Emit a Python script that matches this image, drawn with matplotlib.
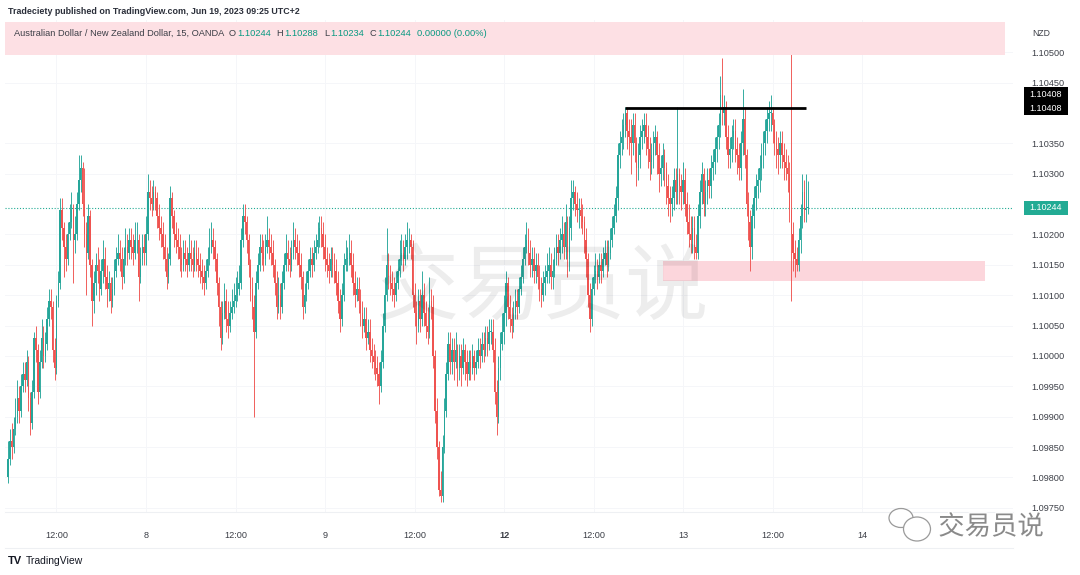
import numpy as np
import matplotlib
matplotlib.use("Agg")
import matplotlib.pyplot as plt
import matplotlib.patheffects as pe
from matplotlib.patches import Rectangle, Ellipse
from matplotlib.lines import Line2D

plt.rcParams['font.family'] = ['Liberation Sans', 'DejaVu Sans']

W, H = 1080, 575
OUT = "out.png"

# AUD/NZD 15 min, OANDA -- prices
first_open = 1.0980

close_d7 = [1.0983, 1.0986, 1.0985, 1.0988, 1.0990, 1.0993, 1.0991, 1.0995, 1.0997, 1.0996,
            1.0999, 1.0993, 1.0989, 1.0994, 1.1003, 1.1001, 1.0994, 1.0999, 1.1003, 1.1000,
            1.1002, 1.1006, 1.1009, 1.1008, 1.1001, 1.0998, 1.1009, 1.1012, 1.1024, 1.1021,
            1.1018, 1.1016, 1.1020, 1.1022, 1.1024, 1.1019, 1.1020, 1.1025, 1.1029, 1.1031,
            1.1025, 1.1020, 1.1017, 1.1023, 1.1015, 1.1009, 1.1012, 1.1015, 1.1014, 1.1011,
            1.1014, 1.1016, 1.1013, 1.1011, 1.1012, 1.1009, 1.1011, 1.1014, 1.1016, 1.1017,
            1.1016, 1.1013, 1.1016, 1.1018, 1.1017, 1.1019, 1.1018, 1.1017, 1.1019, 1.1019,
            1.1013, 1.1016, 1.1018, 1.1017]
high_d7 = [1.0986, 1.0988, 1.0989, 1.0990, 1.0993, 1.0996, 1.0995, 1.0997, 1.0999, 1.0999,
           1.1001, 1.1000, 1.0994, 1.0996, 1.1004, 1.1005, 1.1002, 1.1001, 1.1006, 1.1005,
           1.1004, 1.1008, 1.1011, 1.1011, 1.1009, 1.1003, 1.1010, 1.1014, 1.1026, 1.1026,
           1.1022, 1.1020, 1.1022, 1.1025, 1.1027, 1.1025, 1.1023, 1.1027, 1.1033, 1.1033,
           1.1032, 1.1031, 1.1022, 1.1025, 1.1024, 1.1016, 1.1014, 1.1017, 1.1018, 1.1016,
           1.1016, 1.1019, 1.1018, 1.1015, 1.1014, 1.1013, 1.1013, 1.1016, 1.1018, 1.1020,
           1.1019, 1.1018, 1.1018, 1.1021, 1.1020, 1.1021, 1.1021, 1.1020, 1.1022, 1.1022,
           1.1020, 1.1018, 1.1020, 1.1020]
low_d7 = [1.0979, 1.0982, 1.0983, 1.0984, 1.0987, 1.0989, 1.0989, 1.0990, 1.0994, 1.0994,
          1.0995, 1.0991, 1.0987, 1.0988, 1.0993, 1.0999, 1.0992, 1.0993, 1.0998, 1.0998,
          1.0999, 1.1001, 1.1005, 1.1006, 1.0999, 1.0996, 1.0997, 1.1008, 1.1011, 1.1019,
          1.1013, 1.1014, 1.1015, 1.1019, 1.1021, 1.1012, 1.1017, 1.1019, 1.1024, 1.1027,
          1.1023, 1.1018, 1.1010, 1.1016, 1.1013, 1.1005, 1.1007, 1.1010, 1.1012, 1.1009,
          1.1010, 1.1012, 1.1011, 1.1008, 1.1009, 1.1007, 1.1008, 1.1010, 1.1013, 1.1015,
          1.1014, 1.1011, 1.1012, 1.1015, 1.1015, 1.1016, 1.1016, 1.1015, 1.1016, 1.1017,
          1.1009, 1.1012, 1.1015, 1.1015]

close_d8 = [1.1020, 1.1027, 1.1026, 1.1025, 1.1027, 1.1026, 1.1023, 1.1021, 1.1020, 1.1018,
            1.1016, 1.1013, 1.1016, 1.1026, 1.1023, 1.1020, 1.1019, 1.1018, 1.1016, 1.1015,
            1.1017, 1.1016, 1.1015, 1.1017, 1.1016, 1.1015, 1.1017, 1.1016, 1.1015, 1.1014,
            1.1013, 1.1012, 1.1014, 1.1016, 1.1018, 1.1019, 1.1018, 1.1016, 1.1012, 1.1008,
            1.1003, 1.1007, 1.1009, 1.1006, 1.1005, 1.1007, 1.1008, 1.1009, 1.1010, 1.1011,
            1.1012, 1.1019, 1.1023, 1.1022, 1.1019, 1.1015, 1.1011, 1.1008, 1.1004, 1.1012,
            1.1015, 1.1018, 1.1017, 1.1016, 1.1018, 1.1019, 1.1018, 1.1017, 1.1015, 1.1012,
            1.1008, 1.1010, 1.1008, 1.1012, 1.1015, 1.1017, 1.1016, 1.1015, 1.1017, 1.1019,
            1.1018, 1.1017, 1.1015, 1.1013, 1.1008, 1.1010, 1.1012, 1.1014, 1.1016, 1.1015,
            1.1017, 1.1018, 1.1019, 1.1021, 1.1020, 1.1018]
high_d8 = [1.1023, 1.1030, 1.1029, 1.1028, 1.1029, 1.1028, 1.1027, 1.1025, 1.1023, 1.1022,
           1.1020, 1.1018, 1.1017, 1.1028, 1.1027, 1.1024, 1.1022, 1.1021, 1.1020, 1.1018,
           1.1019, 1.1019, 1.1018, 1.1020, 1.1019, 1.1018, 1.1019, 1.1019, 1.1018, 1.1017,
           1.1016, 1.1015, 1.1016, 1.1018, 1.1021, 1.1022, 1.1021, 1.1019, 1.1017, 1.1013,
           1.1009, 1.1009, 1.1012, 1.1011, 1.1009, 1.1009, 1.1011, 1.1012, 1.1013, 1.1014,
           1.1015, 1.1021, 1.1025, 1.1025, 1.1023, 1.1020, 1.1016, 1.1013, 1.1010, 1.1014,
           1.1017, 1.1020, 1.1020, 1.1019, 1.1020, 1.1023, 1.1021, 1.1020, 1.1019, 1.1016,
           1.1014, 1.1013, 1.1012, 1.1014, 1.1017, 1.1020, 1.1019, 1.1018, 1.1019, 1.1022,
           1.1021, 1.1020, 1.1019, 1.1017, 1.1014, 1.1012, 1.1014, 1.1016, 1.1018, 1.1018,
           1.1019, 1.1020, 1.1022, 1.1023, 1.1023, 1.1022]
low_d8 = [1.1015, 1.1019, 1.1024, 1.1023, 1.1024, 1.1024, 1.1021, 1.1019, 1.1018, 1.1016,
          1.1014, 1.1011, 1.1012, 1.1015, 1.1021, 1.1018, 1.1017, 1.1016, 1.1014, 1.1013,
          1.1014, 1.1014, 1.1013, 1.1014, 1.1014, 1.1013, 1.1014, 1.1014, 1.1013, 1.1012,
          1.1011, 1.1010, 1.1011, 1.1013, 1.1015, 1.1017, 1.1016, 1.1014, 1.1010, 1.1005,
          1.1001, 1.1002, 1.1006, 1.1004, 1.1003, 1.1004, 1.1006, 1.1007, 1.1008, 1.1009,
          1.1010, 1.1011, 1.1018, 1.1020, 1.1017, 1.1013, 1.1009, 1.1006, 1.0990, 1.1003,
          1.1011, 1.1014, 1.1015, 1.1014, 1.1015, 1.1017, 1.1016, 1.1015, 1.1013, 1.1010,
          1.1006, 1.1007, 1.1006, 1.1007, 1.1011, 1.1014, 1.1014, 1.1013, 1.1014, 1.1016,
          1.1016, 1.1015, 1.1013, 1.1011, 1.1006, 1.1007, 1.1009, 1.1011, 1.1013, 1.1013,
          1.1014, 1.1016, 1.1017, 1.1018, 1.1018, 1.1016]

close_d9 = [1.1016, 1.1015, 1.1014, 1.1016, 1.1015, 1.1014, 1.1012, 1.1009, 1.1006, 1.1010,
            1.1015, 1.1016, 1.1016, 1.1017, 1.1015, 1.1012, 1.1010, 1.1011, 1.1009, 1.1007,
            1.1005, 1.1006, 1.1003, 1.1004, 1.1001, 1.1000, 1.0999, 1.0998, 1.0997, 1.0995,
            1.0999, 1.1005, 1.1010, 1.1015, 1.1013, 1.1012, 1.1011, 1.1010, 1.1012, 1.1014,
            1.1016, 1.1017, 1.1016, 1.1018, 1.1019, 1.1019, 1.1018, 1.1010, 1.1007, 1.1005,
            1.1009, 1.1006, 1.1010, 1.1007, 1.1005, 1.1004, 1.1009, 1.1008, 1.1000, 1.0991,
            1.0985, 1.0978, 1.0977, 1.0985, 1.0991, 1.0997, 1.1002, 1.0999, 1.1001, 1.0999,
            1.1001, 1.0998, 1.1000, 1.0998, 1.1001, 1.0999, 1.0997, 1.0999, 1.0998, 1.1000,
            1.0998, 1.0999, 1.1001, 1.1000, 1.1002, 1.1001, 1.1003, 1.1002, 1.1004, 1.1004,
            1.1001, 1.0994, 1.0990, 1.0998, 1.1002, 1.1004]
high_d9 = [1.1020, 1.1018, 1.1017, 1.1018, 1.1018, 1.1017, 1.1016, 1.1014, 1.1011, 1.1012,
           1.1017, 1.1019, 1.1018, 1.1020, 1.1019, 1.1017, 1.1014, 1.1013, 1.1013, 1.1011,
           1.1009, 1.1008, 1.1008, 1.1006, 1.1006, 1.1003, 1.1002, 1.1001, 1.1000, 1.0999,
           1.1001, 1.1007, 1.1013, 1.1021, 1.1017, 1.1015, 1.1014, 1.1013, 1.1014, 1.1016,
           1.1019, 1.1020, 1.1019, 1.1020, 1.1022, 1.1021, 1.1020, 1.1019, 1.1012, 1.1009,
           1.1011, 1.1011, 1.1014, 1.1012, 1.1009, 1.1008, 1.1013, 1.1011, 1.1010, 1.1001,
           1.0993, 1.0986, 1.0981, 1.0987, 1.0993, 1.0999, 1.1004, 1.1004, 1.1003, 1.1003,
           1.1004, 1.1002, 1.1002, 1.1002, 1.1003, 1.1002, 1.1001, 1.1001, 1.1001, 1.1002,
           1.1001, 1.1001, 1.1003, 1.1003, 1.1004, 1.1004, 1.1005, 1.1005, 1.1006, 1.1006,
           1.1006, 1.1003, 1.0996, 1.1000, 1.1004, 1.1007]
low_d9 = [1.1014, 1.1013, 1.1012, 1.1013, 1.1013, 1.1012, 1.1010, 1.1007, 1.1004, 1.1005,
          1.1009, 1.1014, 1.1014, 1.1015, 1.1013, 1.1010, 1.1008, 1.1009, 1.1007, 1.1005,
          1.1003, 1.1004, 1.1001, 1.1002, 1.0999, 1.0998, 1.0997, 1.0996, 1.0995, 1.0992,
          1.0994, 1.0998, 1.1004, 1.1009, 1.1011, 1.1010, 1.1009, 1.1008, 1.1009, 1.1011,
          1.1013, 1.1015, 1.1014, 1.1015, 1.1016, 1.1017, 1.1016, 1.1008, 1.1005, 1.1002,
          1.1004, 1.1004, 1.1005, 1.1005, 1.1003, 1.1002, 1.1003, 1.1006, 1.0998, 1.0989,
          1.0983, 1.0977, 1.0976, 1.0976, 1.0984, 1.0990, 1.0996, 1.0997, 1.0997, 1.0996,
          1.0998, 1.0995, 1.0996, 1.0995, 1.0997, 1.0996, 1.0995, 1.0996, 1.0996, 1.0997,
          1.0996, 1.0997, 1.0998, 1.0998, 1.0999, 1.0999, 1.1000, 1.1000, 1.1001, 1.1002,
          1.0999, 1.0992, 1.0987, 1.0989, 1.0996, 1.1001]

close_d12 = [1.1007, 1.1012, 1.1008, 1.1006, 1.1005, 1.1007, 1.1009, 1.1008, 1.1011, 1.1013,
             1.1016, 1.1018, 1.1019, 1.1017, 1.1015, 1.1016, 1.1014, 1.1015, 1.1013, 1.1011,
             1.1010, 1.1012, 1.1013, 1.1014, 1.1015, 1.1013, 1.1014, 1.1016, 1.1018, 1.1017,
             1.1019, 1.1020, 1.1018, 1.1022, 1.1016, 1.1021, 1.1026, 1.1027, 1.1025, 1.1024,
             1.1024, 1.1023, 1.1022, 1.1019, 1.1016, 1.1010, 1.1006, 1.1011, 1.1013, 1.1014,
             1.1013, 1.1015, 1.1014, 1.1016, 1.1017, 1.1015, 1.1017, 1.1019, 1.1021, 1.1023,
             1.1026, 1.1033, 1.1035, 1.1036, 1.1038, 1.1040, 1.1037, 1.1036, 1.1035, 1.1038,
             1.1035, 1.1031, 1.1033, 1.1036, 1.1037, 1.1038, 1.1036, 1.1034, 1.1032, 1.1033,
             1.1035, 1.1036, 1.1033, 1.1030, 1.1031, 1.1033, 1.1031, 1.1028, 1.1026, 1.1025,
             1.1026, 1.1029, 1.1027, 1.1030, 1.1028, 1.1027]
high_d12 = [1.1010, 1.1014, 1.1013, 1.1010, 1.1008, 1.1009, 1.1011, 1.1011, 1.1013, 1.1015,
            1.1018, 1.1020, 1.1022, 1.1021, 1.1019, 1.1018, 1.1018, 1.1017, 1.1017, 1.1015,
            1.1013, 1.1014, 1.1015, 1.1017, 1.1018, 1.1017, 1.1016, 1.1018, 1.1020, 1.1020,
            1.1021, 1.1023, 1.1022, 1.1025, 1.1023, 1.1023, 1.1029, 1.1029, 1.1028, 1.1027,
            1.1026, 1.1026, 1.1025, 1.1023, 1.1021, 1.1017, 1.1012, 1.1013, 1.1015, 1.1017,
            1.1016, 1.1017, 1.1017, 1.1018, 1.1019, 1.1019, 1.1019, 1.1021, 1.1023, 1.1025,
            1.1028, 1.1035, 1.1037, 1.1039, 1.1040, 1.1041, 1.1041, 1.1039, 1.1039, 1.1040,
            1.1040, 1.1036, 1.1035, 1.1038, 1.1039, 1.1040, 1.1040, 1.1038, 1.1036, 1.1035,
            1.1037, 1.1038, 1.1037, 1.1035, 1.1033, 1.1035, 1.1034, 1.1032, 1.1030, 1.1028,
            1.1028, 1.1031, 1.1031, 1.1041, 1.1031, 1.1030]
low_d12 = [1.1002, 1.1005, 1.1006, 1.1004, 1.1003, 1.1004, 1.1006, 1.1006, 1.1007, 1.1010,
           1.1012, 1.1015, 1.1017, 1.1015, 1.1013, 1.1013, 1.1012, 1.1012, 1.1011, 1.1009,
           1.1008, 1.1009, 1.1010, 1.1012, 1.1012, 1.1011, 1.1011, 1.1013, 1.1015, 1.1015,
           1.1016, 1.1017, 1.1016, 1.1016, 1.1013, 1.1014, 1.1019, 1.1024, 1.1023, 1.1022,
           1.1021, 1.1021, 1.1020, 1.1017, 1.1013, 1.1008, 1.1004, 1.1005, 1.1010, 1.1012,
           1.1011, 1.1012, 1.1012, 1.1013, 1.1015, 1.1013, 1.1014, 1.1016, 1.1018, 1.1020,
           1.1022, 1.1024, 1.1031, 1.1033, 1.1034, 1.1036, 1.1034, 1.1033, 1.1030, 1.1033,
           1.1032, 1.1028, 1.1029, 1.1031, 1.1034, 1.1035, 1.1033, 1.1031, 1.1029, 1.1030,
           1.1031, 1.1033, 1.1030, 1.1027, 1.1028, 1.1029, 1.1028, 1.1025, 1.1023, 1.1022,
           1.1023, 1.1024, 1.1025, 1.1025, 1.1025, 1.1024]

close_d13 = [1.1029, 1.1025, 1.1022, 1.1020, 1.1019, 1.1021, 1.1018, 1.1017, 1.1023, 1.1027,
             1.1030, 1.1025, 1.1027, 1.1029, 1.1028, 1.1031, 1.1032, 1.1034, 1.1036, 1.1038,
             1.1043, 1.1040, 1.1041, 1.1036, 1.1033, 1.1034, 1.1036, 1.1037, 1.1034, 1.1033,
             1.1031, 1.1035, 1.1039, 1.1033, 1.1025, 1.1022, 1.1018, 1.1023, 1.1026, 1.1028,
             1.1029, 1.1031, 1.1033, 1.1035, 1.1037, 1.1039, 1.1040, 1.1040, 1.1038, 1.1035,
             1.1034, 1.1033, 1.1035, 1.1033, 1.1032, 1.1031, 1.1030, 1.1024, 1.1020, 1.1017,
             1.1016, 1.1015, 1.1019, 1.1023, 1.1027, 1.1024, 1.10244, 1.10244]
high_d13 = [1.1032, 1.1031, 1.1027, 1.1025, 1.1023, 1.1023, 1.1023, 1.1020, 1.1025, 1.1029,
            1.1032, 1.1031, 1.1029, 1.1031, 1.1031, 1.1033, 1.1034, 1.1036, 1.1038, 1.1040,
            1.1046, 1.1049, 1.1043, 1.1042, 1.1038, 1.1036, 1.1038, 1.1039, 1.1039, 1.1036,
            1.1035, 1.1037, 1.1044, 1.1041, 1.1034, 1.1027, 1.1024, 1.1025, 1.1028, 1.1030,
            1.1031, 1.1033, 1.1035, 1.1037, 1.1039, 1.1041, 1.1042, 1.1043, 1.1041, 1.1039,
            1.1037, 1.1036, 1.1037, 1.1037, 1.1035, 1.1034, 1.1033, 1.1032, 1.1050, 1.1022,
            1.1019, 1.1018, 1.1021, 1.1025, 1.1030, 1.1029, 1.1030, 1.10288]
low_d13 = [1.1025, 1.1023, 1.1020, 1.1018, 1.1017, 1.1017, 1.1016, 1.1016, 1.1016, 1.1021,
           1.1025, 1.1023, 1.1023, 1.1025, 1.1026, 1.1026, 1.1029, 1.1030, 1.1032, 1.1034,
           1.1036, 1.1038, 1.1038, 1.1034, 1.1031, 1.1031, 1.1032, 1.1034, 1.1032, 1.1030,
           1.1029, 1.1029, 1.1033, 1.1031, 1.1023, 1.1019, 1.1014, 1.1016, 1.1021, 1.1024,
           1.1026, 1.1027, 1.1029, 1.1031, 1.1033, 1.1035, 1.1037, 1.1037, 1.1035, 1.1033,
           1.1031, 1.1030, 1.1031, 1.1031, 1.1029, 1.1029, 1.1027, 1.1022, 1.1009, 1.1014,
           1.1013, 1.1014, 1.1014, 1.1017, 1.1021, 1.1022, 1.1022, 1.10234]

# axis labels
price_ticks = [1.0975, 1.0980, 1.0985, 1.0990, 1.0995, 1.1000, 1.1005, 1.1010,
               1.1015, 1.1020, 1.1030, 1.1035, 1.1045, 1.1050]
time_tick_idx = [26, 74, 122, 170, 218, 266, 314, 362, 410, 458]
time_tick_labels = ["12:00", "8", "12:00", "9", "12:00", "12", "12:00", "13", "12:00", "14"]

# drawings on the chart
level_price, level_from, level_to = 1.10408, 331, 428
zone_lo, zone_hi, zone_from, zone_to = 1.10123, 1.10156, 351, 524

UP, DOWN = "#26a69a", "#ef5350"
TXT = "#3c3f47"

closes = np.array(close_d7 + close_d8 + close_d9 + close_d12 + close_d13)
highs = np.array(high_d7 + high_d8 + high_d9 + high_d12 + high_d13)
lows = np.array(low_d7 + low_d8 + low_d9 + low_d12 + low_d13)
opens = np.concatenate([[first_open], closes[:-1]])
highs = np.maximum(highs, np.maximum(opens, closes))
lows = np.minimum(lows, np.minimum(opens, closes))
idx = np.arange(len(closes))


def fx(px):
    return px / W


def fy(py):
    return 1 - py / H


fig = plt.figure(figsize=(W / 100, H / 100), dpi=100)
fig.patch.set_facecolor("white")
ax = fig.add_axes([fx(5), fy(512), (1013 - 5) / W, (512 - 20) / H])
ax.set_xlim(-1.6, 538.9)
ax.set_ylim(1.09743, 1.10553)
for s in ax.spines.values():
    s.set_visible(False)
ax.grid(True, color="#f5f6f9", lw=0.7, zorder=0)
ax.set_axisbelow(True)

up = closes >= opens
colors = np.where(up, UP, DOWN)
ax.vlines(idx, lows, highs, colors=colors, lw=0.65, zorder=3)
body = np.maximum(np.abs(closes - opens), 0.000012)
ax.bar(idx, body, bottom=np.minimum(opens, closes), width=0.8, color=colors,
       lw=0, zorder=4)

# current price line, level line and zone
ax.axhline(closes[-1], color="#22ab94", lw=0.8, ls=(0, (1, 1.6)), zorder=2)
ax.hlines(level_price, level_from, level_to, color="black", lw=2, zorder=5)
ax.add_patch(Rectangle((zone_from, zone_lo), zone_to - zone_from, zone_hi - zone_lo,
                       color="#fcd6dc", lw=0, zorder=1))

# ticks
ax.yaxis.tick_right()
ax.set_yticks(price_ticks, labels=[f"{p:.5f}" for p in price_ticks])
ax.tick_params(axis="y", length=0, pad=13.5, labelsize=6.6, labelcolor=TXT)
ax.set_xticks(time_tick_idx, labels=time_tick_labels)
ax.tick_params(axis="x", length=0, pad=14, labelsize=6.6, labelcolor=TXT)
for lbl in ax.get_xticklabels():
    if lbl.get_text() == "12":
        lbl.set_fontweight("bold")

# separators
fig.add_artist(Line2D([fx(5), fx(1013)], [fy(548), fy(548)], color="#eef0f3", lw=0.8))
fig.add_artist(Line2D([fx(5), fx(1013)], [fy(512), fy(512)], color="#eef0f3", lw=0.8))

# header band + legend
fig.add_artist(Rectangle((fx(5), fy(55)), (1005 - 5) / W, (55 - 22) / H,
                         transform=fig.transFigure, color="#fde0e4", lw=0, zorder=1))
fig.text(fx(8.5), fy(12), "Tradeciety published on TradingView.com, Jun 19, 2023 09:25 UTC+2",
         fontsize=6.4, fontweight="bold", color="#2a2e39", va="center")
fig.text(fx(1032), fy(33), "NZD", fontsize=6.2, color=TXT, va="center")

GREEN_TXT = "#089981"
renderer = fig.canvas.get_renderer()
legend = [("Australian Dollar / New Zealand Dollar, 15, OANDA", TXT, 4),
          ("O", TXT, 1), (f"{opens[-1]:.5f}", GREEN_TXT, 6),
          ("H", TXT, 1), (f"{highs[-1]:.5f}", GREEN_TXT, 6),
          ("L", TXT, 1), (f"{lows[-1]:.5f}", GREEN_TXT, 6),
          ("C", TXT, 1), (f"{closes[-1]:.5f}", GREEN_TXT, 6),
          (f"{closes[-1] - opens[-1]:.5f} (0.00%)", GREEN_TXT, 0)]
x = 14.5
for txt, col, gap in legend:
    t = fig.text(fx(x), fy(33), txt, fontsize=6.7, color=col, va="center", zorder=6)
    x += t.get_window_extent(renderer).width + gap


# price labels on the scale
def price_px(p):
    return H - ax.transData.transform((0, p))[1]


def scale_box(py, text, face):
    fig.add_artist(Rectangle((fx(1024), fy(py + 7)), 44 / W, 14 / H,
                             transform=fig.transFigure, color=face, lw=0, zorder=6))
    fig.text(fx(1046), fy(py), text, fontsize=6.5, color="white", ha="center",
             va="center", zorder=7)


ly = price_px(level_price)
scale_box(ly, f"{level_price:.5f}", "black")
scale_box(ly - 14, f"{level_price:.5f}", "black")
scale_box(price_px(closes[-1]), f"{closes[-1]:.5f}", "#22ab94")

# watermarks
cjk = ["Noto Sans CJK SC", "DejaVu Sans"]
fig.text(fx(542), fy(288), "交易员说", family=cjk, fontsize=60, color="black",
         alpha=0.07, ha="center", va="center", zorder=8)
fig.text(fx(991), fy(527), "交易员说", family=cjk, fontsize=19, color="#8a8a8a",
         ha="center", va="center", zorder=8,
         path_effects=[pe.withStroke(linewidth=2, foreground="white")])
fig.add_artist(Ellipse((fx(901), fy(518)), 24 / W, 19 / H, transform=fig.transFigure,
                       facecolor="white", edgecolor="#9a9a9a", lw=0.9, zorder=8))
fig.add_artist(Ellipse((fx(917), fy(529)), 27 / W, 24 / H, transform=fig.transFigure,
                       facecolor="white", edgecolor="#9a9a9a", lw=0.9, zorder=8))

# TradingView footer
fig.text(fx(8), fy(561), "TV", fontsize=8, fontweight="bold", color="#131722", va="center")
fig.text(fx(26), fy(561), "TradingView", fontsize=7.5, color="#131722", va="center")

fig.savefig(OUT, dpi=100, facecolor="white")
plt.close(fig)
print("[DONE]", OUT)
